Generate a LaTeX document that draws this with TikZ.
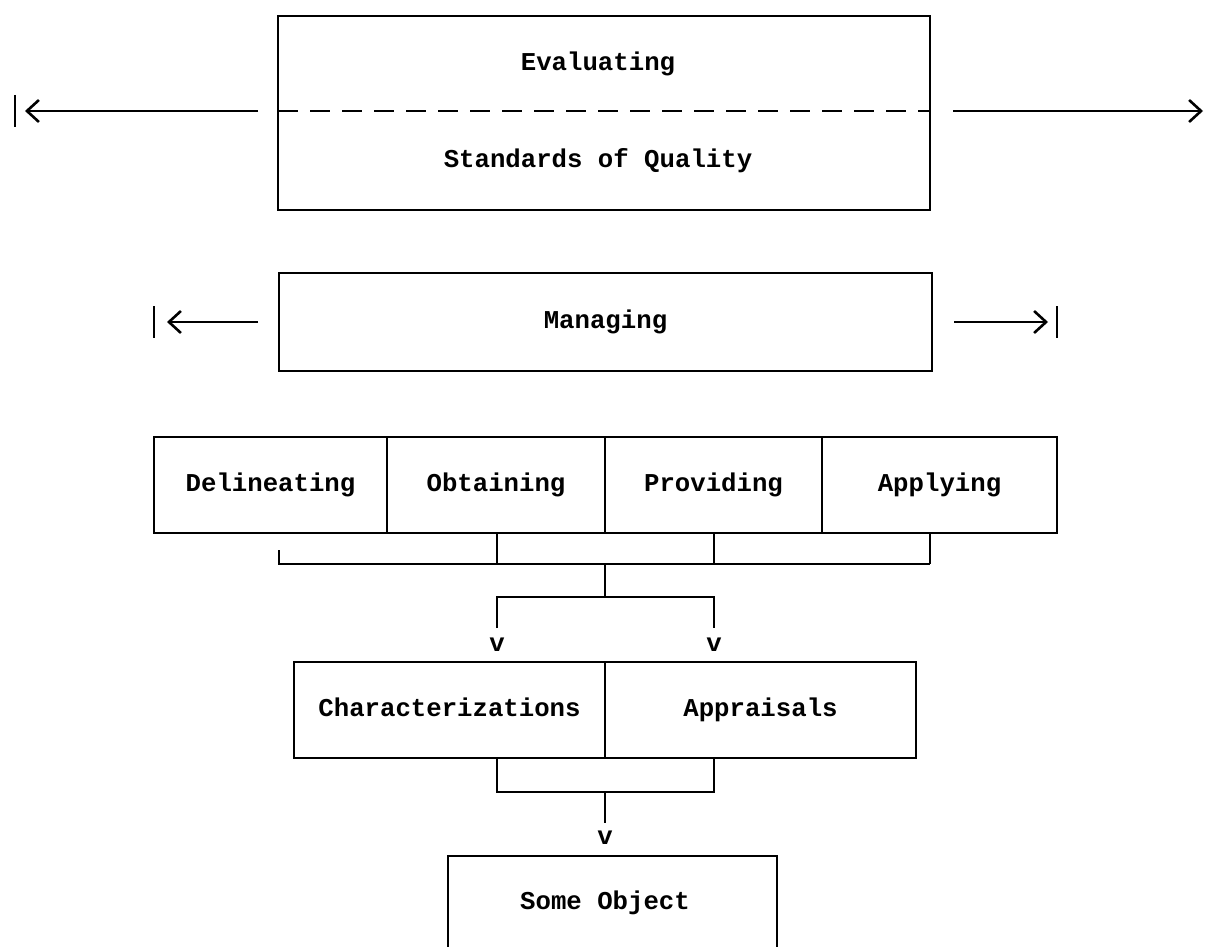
\documentclass[tikz,border=0pt]{standalone}
\usepackage{fontspec}
\setmonofont{Liberation Mono}
\usetikzlibrary{arrows.meta}
\begin{document}
\begin{tikzpicture}[x=1pt,y=-1pt,
  every node/.style={font=\ttfamily\bfseries\fontsize{25.7}{30}\selectfont, inner sep=0pt, outer sep=0pt, text height=18pt, text depth=5pt},
  box/.style={draw, line width=2.6pt, rectangle},
  ln/.style={line width=2.6pt},
  tip/.style={line width=2.6pt, -{Straight Barb[length=12pt,width=22pt,line width=2.6pt]}},
  dashln/.style={line width=2.6pt, dash pattern=on 20pt off 12pt}]
\useasboundingbox[fill=white] (0,0) rectangle (1205,947);

% ---------- Evaluating / Standards of Quality ----------
\node[box, minimum width=652pt, minimum height=194pt] (evalbox) at (604,113) {};
\node (evaltxt) at (598,64) {Evaluating};
\node (stdtxt) at (598,161) {Standards of Quality};
\coordinate (dashL) at (278,111);
\coordinate (dashR) at (930,111);
\draw[dashln] (dashL) -- (dashR);
\coordinate (etipL) at (25,111);
\coordinate (ebarL) at (15,111);
\coordinate (etipR) at (1203,111);
\draw[tip] ([xshift=-20pt]dashL) -- (etipL);
\draw[ln] ([yshift=16pt]ebarL) -- ([yshift=-16pt]ebarL);
\draw[tip] ([xshift=23pt]dashR) -- (etipR);

% ---------- Managing ----------
\node[box, minimum width=653pt, minimum height=98pt] (mng) at (605.5,322) {Managing};
\coordinate (mtipL) at (167,322);
\coordinate (mbarL) at (154,322);
\coordinate (mtipR) at (1048,322);
\coordinate (mbarR) at (1057,322);
\draw[tip] ([xshift=-21pt]mng.west) -- (mtipL);
\draw[ln] ([yshift=16pt]mbarL) -- ([yshift=-16pt]mbarL);
\draw[tip] ([xshift=22pt]mng.east) -- (mtipR);
\draw[ln] ([yshift=16pt]mbarR) -- ([yshift=-16pt]mbarR);

% ---------- Process row ----------
\node[box, minimum width=233pt, minimum height=96pt] (del) at (270.5,485) {Delineating};
\node[box, minimum width=218pt, minimum height=96pt] (obt) at (496,485) {Obtaining};
\node[box, minimum width=217pt, minimum height=96pt] (prv) at (713.5,485) {Providing};
\node[box, minimum width=235pt, minimum height=96pt] (apl) at (939.5,485) {Applying};

% bracket 1
\coordinate (b1L) at (279,564);
\coordinate (b1O) at (497,564);
\coordinate (b1M) at (605,564);
\coordinate (b1P) at (714,564);
\coordinate (b1R) at (930,564);
\draw[ln] ([yshift=14pt]b1L) -- (b1L) -- (b1R);
\draw[ln] (obt.south -| b1O) -- (b1O);
\draw[ln] (prv.south -| b1P) -- (b1P);
\draw[ln] (apl.south -| b1R) -- (b1R);

% bracket 2
\coordinate (b2L) at (497,597);
\coordinate (b2M) at (605,597);
\coordinate (b2R) at (714,597);
\coordinate (e2L) at (497,628);
\coordinate (e2R) at (714,628);
\draw[ln] (b1M) -- (b2M);
\draw[ln] (e2L) -- (b2L) -- (b2R) -- (e2R);
\node (vL) at (497,645) {v};
\node (vR) at (714,645) {v};

% ---------- Characterizations / Appraisals ----------
\node[box, minimum width=311pt, minimum height=96pt] (chr) at (449.5,710) {Characterizations};
\node[box, minimum width=311pt, minimum height=96pt] (apr) at (760.5,710) {Appraisals};

% bracket 3
\coordinate (b3L) at (497,792);
\coordinate (b3M) at (605,792);
\coordinate (b3R) at (714,792);
\coordinate (e3M) at (605,823);
\draw[ln] (chr.south -| b3L) -- (b3L) -- (b3R) -- (apr.south -| b3R);
\draw[ln] (b3M) -- (e3M);
\node (vM) at (605,838) {v};

% ---------- Some Object ----------
\node[minimum width=329pt, minimum height=94pt] (obj) at (612.5,903) {};
\node (objtxt) at (605,903) {Some Object};
\draw[ln] (obj.south west) -- (obj.north west) -- (obj.north east) -- (obj.south east);
\end{tikzpicture}
\end{document}
